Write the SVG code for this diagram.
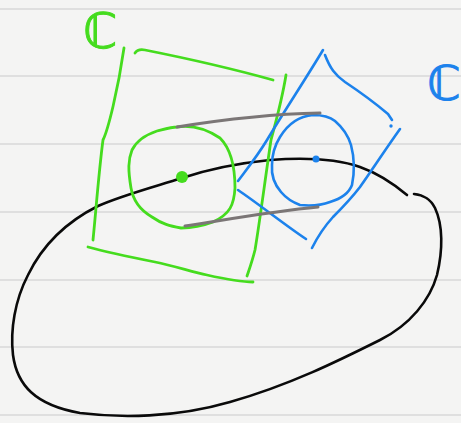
<svg xmlns="http://www.w3.org/2000/svg" width="461" height="423" viewBox="0 0 461 423">
<style>
.rule{stroke:#d9d9d9;stroke-width:1.5}
.g{fill:none;stroke:#45dc1e;stroke-width:2.8;stroke-linecap:round;stroke-linejoin:round}
.b{fill:none;stroke:#1c82ec;stroke-width:2.6;stroke-linecap:round;stroke-linejoin:round}
.k{fill:none;stroke:#0a0a0a;stroke-width:2.6;stroke-linecap:round;stroke-linejoin:round}
.t{fill:none;stroke:#7b7676;stroke-width:3;stroke-linecap:round}
.lbl{font-family:"DejaVu Sans","Liberation Sans",sans-serif;stroke-width:1}
</style>
<rect width="461" height="423" fill="#f4f4f3"/>
<g id="paper">
<line class="rule" x1="0" y1="9" x2="461" y2="9"/>
<line class="rule" x1="0" y1="76" x2="461" y2="76"/>
<line class="rule" x1="0" y1="144" x2="461" y2="144"/>
<line class="rule" x1="0" y1="212" x2="461" y2="212"/>
<line class="rule" x1="0" y1="280" x2="461" y2="280"/>
<line class="rule" x1="0" y1="347" x2="461" y2="347"/>
<line class="rule" x1="0" y1="415" x2="461" y2="415"/>
</g>
<g id="base">
<path class="k" d="M407,195 C395,185 380,174 360,167 C340,160 310,157 270,160 C230,164 200,172 182,178 C150,188 120,196 98,206 C70,220 45,240 28,275 C15,300 10,330 13,355 C17,385 35,405 80,413 C120,418 175,418 230,402 C290,385 340,360 380,340 C410,325 430,300 437,275 C443,250 443,225 435,208 C430,198 423,195 414,194"/>
</g>
<g id="green-square">
<path class="g" d="M124,48 C118,90 108,130 103,140 C99,170 96,210 93,240"/>
<path class="g" d="M135,53 C137,50 140,49 145,50 C185,58 230,68 273,80"/>
<path class="g" d="M286,75 C282,100 275,125 271,140 C265,180 260,220 255,250 C252,262 249,270 247,276"/>
<path class="g" d="M88,247 C110,253 135,258 155,262 C175,266 192,272 207,275 C225,279 240,282 253,282"/>
<path class="g" d="M177,127 C190,125 205,128 220,138 C232,150 235,170 235,188 C234,205 230,214 213,222 C200,227 192,228 181,228 C170,226 162,224 152,217 C140,210 133,200 131,188 C128,170 128,160 132,150 C137,140 148,134 157,131 C165,129 172,127 177,127 Z"/>
<circle cx="182" cy="177" r="6" fill="#45dc1e"/>
</g>
<g id="blue-square">
<path class="b" d="M323,50 C305,80 285,110 267,140 C258,155 250,165 238,181"/>
<path class="b" d="M238,190 C260,205 285,225 306,239"/>
<path class="b" d="M325,55 C330,68 335,75 345,82 C360,92 375,103 388,114 L392,120"/>
<circle cx="391" cy="126" r="1.7" fill="#1c82ec"/>
<path class="b" d="M400,129 C385,150 372,170 360,187 C350,200 340,210 333,217 C323,228 317,238 312,248"/>
<path class="b" d="M313,115 C323,115 330,117 335,121 C342,127 348,135 351,145 C355,160 354,175 352,185 C349,193 340,199 330,202 C322,205 310,206 300,205 C292,202 286,198 281,192 C275,185 271,177 272,165 C272,155 275,145 280,137 C288,124 300,116 313,115 Z"/>
<circle cx="316" cy="159" r="3.5" fill="#1c82ec"/>
</g>
<g id="connectors">
<path class="t" d="M177,127 C220,120 270,114 320,113"/>
<path class="t" d="M185,226 C230,219 275,211 318,207"/>
</g>
<g id="label-green">
<text class="lbl" x="83" y="48" font-size="49" fill="#45dc1e" stroke="#45dc1e">ℂ</text>
</g>
<g id="label-blue">
<text class="lbl" x="427" y="100" font-size="48" fill="#1c82ec" stroke="#1c82ec">ℂ</text>
</g>
</svg>
